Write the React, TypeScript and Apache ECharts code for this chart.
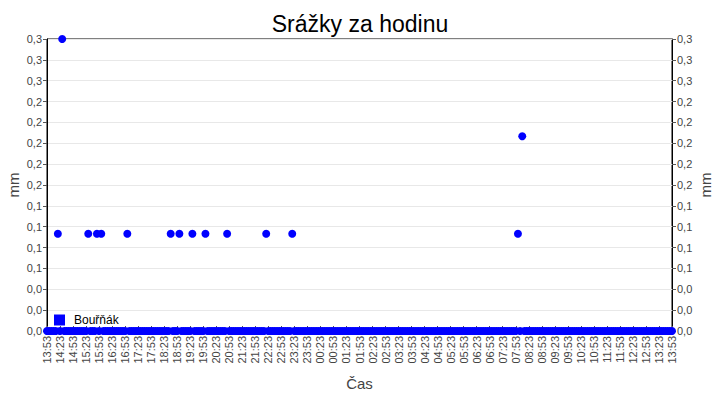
import React, { useEffect, useRef } from "react";
import * as echarts from "echarts";

const TITLE = "Srážky za hodinu";
const SERIES_NAME = "Bouřňák";
const X_NAME = "Čas";
const Y_NAME = "mm";
const START_CLOCK = "13:53";
const SPAN_MINUTES = 1440;
const SAMPLE_STEP = 5;
const LABEL_STEP = 30;
const Y_MAX = 0.3;
const Y_TICKS = 14;

// non-zero readings (clock time, mm); all other samples read as 0
const eventTimes = [
  "14:18", "14:28", "15:28", "15:48", "15:58", "16:58", "18:38", "18:58",
  "19:28", "19:58", "20:48", "22:18", "23:18", "07:58", "08:08",
];
const eventValues = [
  0.1, 0.3, 0.1, 0.1, 0.1, 0.1, 0.1, 0.1,
  0.1, 0.1, 0.1, 0.1, 0.1, 0.1, 0.2,
];

const toMin = (s: string) => {
  const [h, m] = s.split(":").map(Number);
  return h * 60 + m;
};
const startMin = toMin(START_CLOCK);
const offsetOf = (s: string) => (toMin(s) - startMin + 1440) % 1440;
const clockOf = (off: number) => {
  const t = (startMin + Math.round(off)) % 1440;
  const h = Math.floor(t / 60);
  const m = t % 60;
  return `${String(h).padStart(2, "0")}:${String(m).padStart(2, "0")}`;
};

function buildData(): [number, number][] {
  const ev = new Map<number, number>();
  eventTimes.forEach((t, i) => ev.set(offsetOf(t), eventValues[i]));
  const out: [number, number][] = [];
  for (let o = 0; o <= SPAN_MINUTES; o += SAMPLE_STEP) {
    out.push([o, ev.has(o) ? (ev.get(o) as number) : 0]);
  }
  return out;
}

const FONT = "Liberation Sans, Arial, sans-serif";

export default function App() {
  const ref = useRef<HTMLDivElement>(null);
  useEffect(() => {
    if (!ref.current) return;
    const chart = echarts.init(ref.current, undefined, { renderer: "svg" });
    const yFmt = (v: number) =>
      (Math.round(v * 10 + 1e-6) / 10).toFixed(1).replace(".", ",");
    const yAxisBase = {
      type: "value" as const,
      min: 0,
      max: Y_MAX,
      interval: Y_MAX / Y_TICKS,
      name: Y_NAME,
      nameLocation: "middle" as const,
      nameRotate: 90,
      nameGap: 26,
      nameMoveOverlap: false,
      nameTextStyle: { color: "#444", fontSize: 15, fontFamily: FONT },
      axisLine: { show: true, lineStyle: { color: "#000", width: 1 } },
      axisTick: { show: true, length: 4, lineStyle: { color: "#555" } },
      axisLabel: {
        color: "#444",
        fontSize: 11,
        fontFamily: FONT,
        margin: 5,
        formatter: yFmt,
      },
    };
    chart.setOption({
      animation: false,
      backgroundColor: "#fff",
      title: {
        text: TITLE,
        left: "center",
        top: 7,
        textStyle: { color: "#000", fontSize: 23, fontWeight: "normal", fontFamily: FONT },
      },
      legend: {
        left: 49,
        top: 309,
        icon: "rect",
        itemWidth: 11,
        itemHeight: 11,
        itemGap: 6,
        textStyle: { color: "#000", fontSize: 12, fontFamily: FONT, padding: [0, 0, 0, 4] },
        data: [SERIES_NAME],
      },
      grid: {
        left: 47,
        right: 48,
        top: 39,
        bottom: 69,
        outerBoundsMode: "none",
        containLabel: false,
        show: true,
        borderColor: "#000",
        borderWidth: 1,
        backgroundColor: "#fff",
      },
      xAxis: {
        type: "value",
        min: 0,
        max: SPAN_MINUTES,
        interval: LABEL_STEP,
        name: X_NAME,
        nameLocation: "middle",
        nameGap: 45,
        nameMoveOverlap: false,
        nameTextStyle: { color: "#444", fontSize: 15, fontFamily: FONT },
        axisLine: { show: true, lineStyle: { color: "#000" } },
        axisTick: { show: true, inside: true, length: 5, lineStyle: { color: "#555" } },
        splitLine: { show: false },
        axisLabel: {
          rotate: 90,
          color: "#444",
          fontSize: 11,
          fontFamily: FONT,
          margin: 5,
          showMinLabel: true,
          showMaxLabel: true,
          hideOverlap: false,
          formatter: (v: number) => clockOf(v),
        },
      },
      yAxis: [
        {
          ...yAxisBase,
          position: "left",
          splitLine: { show: true, lineStyle: { color: "#e8e8e8", width: 1 } },
        },
        {
          ...yAxisBase,
          position: "right",
          splitLine: { show: false },
        },
      ],
      series: [
        {
          name: SERIES_NAME,
          type: "scatter",
          yAxisIndex: 0,
          symbol: "circle",
          symbolSize: 8,
          itemStyle: { color: "#0000ff", opacity: 1 },
          data: buildData(),
          z: 3,
        },
      ],
    });
    return () => chart.dispose();
  }, []);
  return <div ref={ref} style={{ width: 720, height: 400, position: "absolute", left: 0, top: 0 }} />;
}
